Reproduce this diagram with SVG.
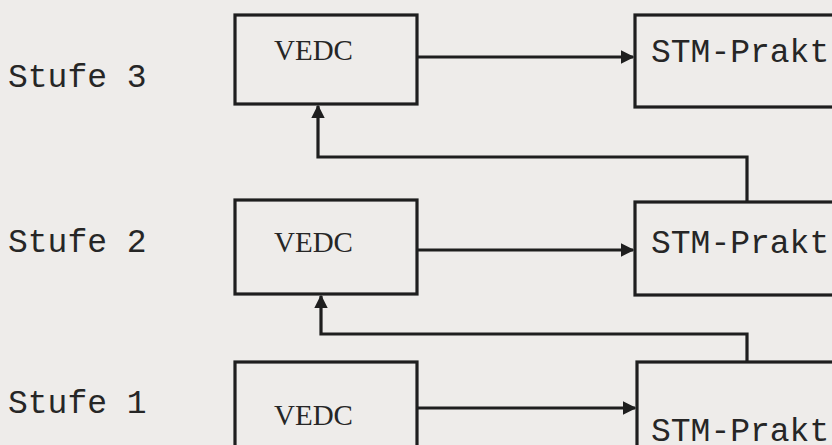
<svg xmlns="http://www.w3.org/2000/svg" width="832" height="445" viewBox="0 0 832 445">
<style>
.box{fill:none;stroke:#1e1e1e;stroke-width:3.2}
.ln{fill:none;stroke:#1e1e1e;stroke-width:3.2}
.lab{font-family:"Liberation Mono",monospace;font-size:33px;fill:#262626}
.ved{font-family:"Liberation Serif",serif;font-size:29px;fill:#262626}
</style>
<defs>
<marker id="ah" viewBox="0 0 10 10" refX="9" refY="5" markerWidth="4.2" markerHeight="4.2" orient="auto" markerUnits="strokeWidth">
<path d="M0,0 L10,5 L0,10 Z" fill="#1e1e1e"/>
</marker>
</defs>
<rect width="832" height="445" fill="#eeecea"/>
<g id="labels">
<text class="lab" x="8" y="87">Stufe 3</text>
<text class="lab" x="8" y="252">Stufe 2</text>
<text class="lab" x="8" y="413">Stufe 1</text>
</g>
<g id="vedc3"><rect class="box" x="235" y="15" width="182" height="89"/><text class="ved" x="274" y="60">VEDC</text></g>
<g id="stm3"><rect class="box" x="635" y="15" width="210" height="92"/><text class="lab" x="651" y="62">STM-Prakt</text></g>
<g id="vedc2"><rect class="box" x="235" y="200" width="182" height="94"/><text class="ved" x="274" y="252">VEDC</text></g>
<g id="stm2"><rect class="box" x="635" y="202" width="210" height="93"/><text class="lab" x="651" y="253">STM-Prakt</text></g>
<g id="vedc1"><rect class="box" x="235" y="362" width="182" height="100"/><text class="ved" x="274" y="425">VEDC</text></g>
<g id="stm1"><rect class="box" x="637" y="362" width="210" height="100"/><text class="lab" x="651" y="441">STM-Prakt</text></g>
<g id="connectors">
<path class="ln" d="M417,57 H633" marker-end="url(#ah)"/>
<path class="ln" d="M417,250 H633" marker-end="url(#ah)"/>
<path class="ln" d="M417,408 H635" marker-end="url(#ah)"/>
<path class="ln" d="M747,202 V157 H318 V106" marker-end="url(#ah)"/>
<path class="ln" d="M747,362 V334 H321 V296" marker-end="url(#ah)"/>
</g>
</svg>
